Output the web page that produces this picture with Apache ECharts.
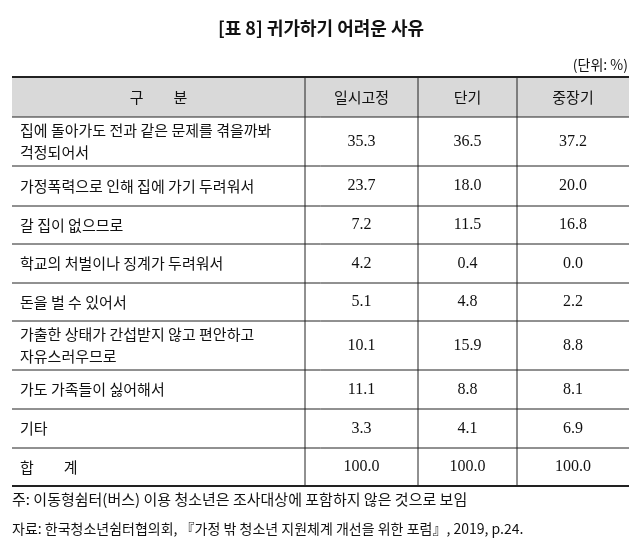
<!DOCTYPE html>
<html><head><meta charset="utf-8">
<script src="https://cdn.jsdelivr.net/npm/echarts@6/dist/echarts.min.js"></script>
<style>html,body{margin:0;padding:0;background:#fff}#c{width:643px;height:554px}</style>
</head><body><div id="c"></div>
<script>
const title = '[표 8] 귀가하기 어려운 사유';
const unit = '(단위: %)';
const headers = ['구　　분', '일시고정', '단기', '중장기'];
const categories = [
  '집에 돌아가도 전과 같은 문제를 겪을까봐\n걱정되어서',
  '가정폭력으로 인해 집에 가기 두려워서',
  '갈 집이 없으므로',
  '학교의 처벌이나 징계가 두려워서',
  '돈을 벌 수 있어서',
  '가출한 상태가 간섭받지 않고 편안하고\n자유스러우므로',
  '가도 가족들이 싫어해서',
  '기타',
  '합　　계'
];
const shortTerm0 = ['35.3','23.7','7.2','4.2','5.1','10.1','11.1','3.3','100.0'];
const shortTerm = ['36.5','18.0','11.5','0.4','4.8','15.9','8.8','4.1','100.0'];
const longTerm = ['37.2','20.0','16.8','0.0','2.2','8.8','8.1','6.9','100.0'];
const notes = ['주: 이동형쉼터(버스) 이용 청소년은 조사대상에 포함하지 않은 것으로 보임',
  '자료: 한국청소년쉼터협의회, 『가정 밖 청소년 지원체계 개선을 위한 포럼』, 2019, p.24.'];

const colX = [12, 305, 418, 517, 629];
const rowY = [77, 117, 166, 206, 244, 283, 321, 370, 409, 448, 486];
const kfont = '"Noto Sans CJK KR", sans-serif';
const nfont = '"Liberation Serif", serif';
const g = [];
g.push({type:'text', style:{text:title, x:321, y:28, align:'center', verticalAlign:'middle', font:'bold 18px '+kfont, fill:'#111'}});
g.push({type:'text', style:{text:unit, x:628, y:65, align:'right', verticalAlign:'middle', font:'14px '+kfont, fill:'#111'}});
g.push({type:'rect', shape:{x:colX[0], y:rowY[0], width:colX[4]-colX[0], height:rowY[1]-rowY[0]}, style:{fill:'#d9d9d9'}});
headers.forEach((h,i)=>{
  g.push({type:'text', style:{text:h, x:(colX[i]+colX[i+1])/2, y:(rowY[0]+rowY[1])/2, align:'center', verticalAlign:'middle', font:'15px '+kfont, fill:'#111'}});
});
const cols = [shortTerm0, shortTerm, longTerm];
categories.forEach((c,r)=>{
  const cy = (rowY[r+1]+rowY[r+2])/2;
  g.push({type:'text', style:{text:c, x:20, y:cy, align:'left', verticalAlign:'middle', font:'15px '+kfont, lineHeight:22, fill:'#111'}});
  cols.forEach((arr,j)=>{
    g.push({type:'text', style:{text:arr[r], x:(colX[j+1]+colX[j+2])/2, y:cy, align:'center', verticalAlign:'middle', font:'16px '+nfont, fill:'#111'}});
  });
});
rowY.forEach((y,i)=>{
  const thick = (i===0 || i===rowY.length-1) ? 2 : 1;
  g.push({type:'line', shape:{x1:colX[0], y1:y, x2:colX[4], y2:y}, style:{stroke:'#222', lineWidth:thick}});
});
colX.slice(1,4).forEach(x=>{
  g.push({type:'line', shape:{x1:x, y1:rowY[0], x2:x, y2:rowY[rowY.length-1]}, style:{stroke:'#222', lineWidth:1}});
});
g.push({type:'text', style:{text:notes[0], x:12, y:499, align:'left', verticalAlign:'middle', font:'15px '+kfont, fill:'#111'}});
g.push({type:'text', style:{text:notes[1], x:12, y:529, align:'left', verticalAlign:'middle', font:'14px '+kfont, fill:'#111'}});
const chart = echarts.init(document.getElementById('c'));
chart.setOption({animation:false, graphic:{elements:g}});
</script></body></html>
